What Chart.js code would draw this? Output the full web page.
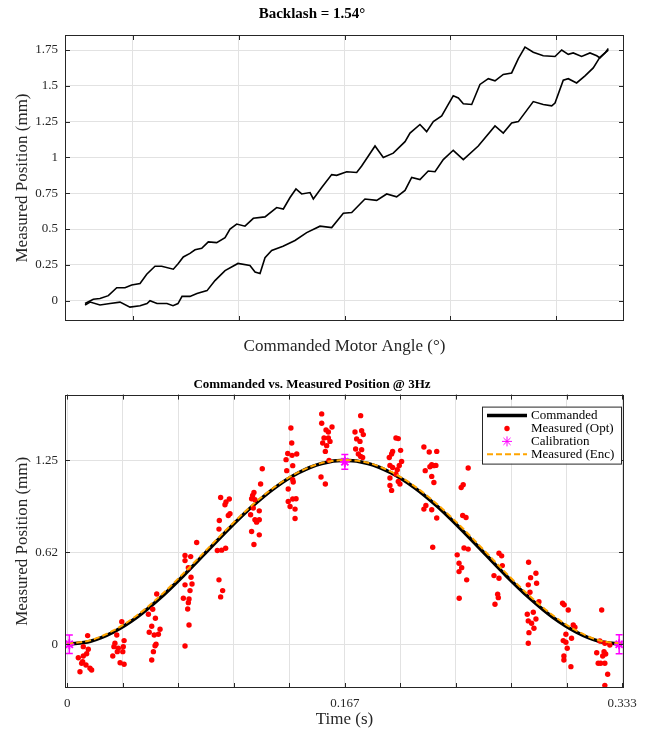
<!DOCTYPE html>
<html>
<head>
<meta charset="utf-8">
<script src="https://cdn.jsdelivr.net/npm/chart.js@4.4.0/dist/chart.umd.min.js"></script>
<style>
  html, body { margin: 0; padding: 0; background: #fff; }
  .wrap { position: absolute; left: 0; width: 652px; height: 365px; }
</style>
</head>
<body>
<div class="wrap" style="top:0"><canvas id="backlash"></canvas></div>
<div class="wrap" style="top:365px"><canvas id="tracking"></canvas></div>
<script>
// top plot - backlash loop (two passes)
const upperAngle = [0.552, 0.63, 0.693, 0.772, 0.851, 0.929, 0.992, 1.071, 1.134, 1.212, 1.275, 1.385, 1.432, 1.479, 1.542, 1.59, 1.653, 1.715, 1.794, 1.873, 1.92, 1.983, 2.061, 2.14, 2.25, 2.36, 2.423, 2.486, 2.542, 2.596, 2.675, 2.706, 2.785, 2.879, 2.926, 3.021, 3.115, 3.162, 3.225, 3.288, 3.366, 3.46, 3.571, 3.618, 3.712, 3.775, 3.838, 3.917, 3.979, 4.026, 4.074, 4.121, 4.2, 4.278, 4.357, 4.42, 4.498, 4.577, 4.64, 4.703, 4.781, 4.875, 4.986, 5.049, 5.111, 5.158, 5.237, 5.316, 5.38, 5.41, 5.458, 5.489];
const upperPos = [-0.02, 0.01, 0.015, 0.035, 0.09, 0.09, 0.11, 0.12, 0.185, 0.24, 0.24, 0.22, 0.26, 0.305, 0.33, 0.355, 0.365, 0.41, 0.405, 0.44, 0.5, 0.535, 0.52, 0.575, 0.585, 0.65, 0.64, 0.72, 0.78, 0.745, 0.755, 0.71, 0.79, 0.88, 0.875, 0.9, 0.895, 0.94, 1.01, 1.08, 1.0, 1.03, 1.11, 1.17, 1.23, 1.18, 1.25, 1.29, 1.37, 1.43, 1.415, 1.375, 1.37, 1.51, 1.55, 1.535, 1.58, 1.59, 1.69, 1.77, 1.735, 1.71, 1.705, 1.75, 1.72, 1.73, 1.705, 1.73, 1.71, 1.695, 1.73, 1.76];
const lowerAngle = [0.552, 0.6, 0.693, 0.788, 0.882, 0.976, 1.071, 1.137, 1.165, 1.231, 1.325, 1.382, 1.429, 1.467, 1.542, 1.608, 1.703, 1.778, 1.873, 1.995, 2.108, 2.156, 2.203, 2.25, 2.313, 2.42, 2.533, 2.643, 2.769, 2.879, 2.989, 3.068, 3.193, 3.304, 3.398, 3.492, 3.571, 3.634, 3.712, 3.79, 3.854, 3.932, 4.026, 4.121, 4.262, 4.42, 4.498, 4.577, 4.64, 4.781, 4.875, 4.955, 4.986, 5.064, 5.111, 5.19, 5.269, 5.347, 5.41, 5.458, 5.489];
const lowerPos = [-0.03, -0.01, -0.03, -0.02, -0.01, -0.045, -0.035, -0.02, 0.0, -0.02, -0.02, -0.035, -0.02, 0.03, 0.03, 0.05, 0.07, 0.14, 0.21, 0.26, 0.245, 0.2, 0.19, 0.3, 0.35, 0.38, 0.42, 0.475, 0.52, 0.51, 0.61, 0.615, 0.71, 0.7, 0.745, 0.725, 0.77, 0.86, 0.845, 0.905, 0.9, 0.985, 1.05, 0.985, 1.08, 1.22, 1.17, 1.24, 1.25, 1.39, 1.37, 1.36, 1.38, 1.54, 1.55, 1.52, 1.57, 1.625, 1.7, 1.73, 1.75];
const angleTicks = [1, 2, 3, 4, 5];
const backlashTicks = [0, 0.25, 0.5, 0.75, 1, 1.25, 1.5, 1.75];

// bottom plot - 3 Hz tracking
const cmdTime = [0, 0.0139, 0.0278, 0.0417, 0.0556, 0.0694, 0.0833, 0.0972, 0.1111, 0.125, 0.1389, 0.1528, 0.1667, 0.1806, 0.1944, 0.2083, 0.2222, 0.2361, 0.25, 0.2639, 0.2778, 0.2917, 0.3056, 0.3194, 0.3333];
const cmdPos = [0, 0.021, 0.084, 0.183, 0.313, 0.463, 0.625, 0.787, 0.938, 1.067, 1.166, 1.229, 1.25, 1.229, 1.166, 1.067, 0.938, 0.787, 0.625, 0.463, 0.313, 0.183, 0.084, 0.021, 0];
const encPos = [0.003, 0.027, 0.094, 0.196, 0.327, 0.478, 0.638, 0.798, 0.946, 1.073, 1.17, 1.232, 1.252, 1.234, 1.173, 1.077, 0.952, 0.804, 0.643, 0.48, 0.328, 0.197, 0.094, 0.027, 0.004];
const optTime = [
  0.0122, 0.0096, 0.0126, 0.0066, 0.0096, 0.0116, 0.0086, 0.0112, 0.0076, 0.0146, 0.0092, 0.0136,
  0.0327, 0.0297, 0.0341, 0.0286, 0.028, 0.0306, 0.0336, 0.03, 0.0333, 0.0273, 0.0317, 0.0341,
  0.0537, 0.0513, 0.0487, 0.0529, 0.0507, 0.0557, 0.0492, 0.0522, 0.0547, 0.0533, 0.0527, 0.0517, 0.0507,
  0.0777, 0.0707, 0.0741, 0.0707, 0.0727, 0.0743, 0.0707, 0.0749, 0.0737, 0.0697, 0.0731, 0.0727, 0.0723, 0.0731, 0.0707,
  0.0921, 0.0973, 0.0953, 0.0947, 0.0977, 0.0967, 0.0913, 0.0911, 0.0951, 0.0927, 0.0901, 0.0911, 0.0933, 0.0921,
  0.1171, 0.1161, 0.1121, 0.1113, 0.1107, 0.1127, 0.1117, 0.1153, 0.1101, 0.1127, 0.1153, 0.1137, 0.1107, 0.1153, 0.1121,
  0.1343, 0.1348, 0.1324, 0.1378, 0.135, 0.1314, 0.1354, 0.1318, 0.1354, 0.1357, 0.1327, 0.1374, 0.1354, 0.1327, 0.1338, 0.1368, 0.1368,
  0.1528, 0.1528, 0.159, 0.1554, 0.1568, 0.1542, 0.1568, 0.1578, 0.1534, 0.1558, 0.155, 0.1572, 0.1524, 0.155,
  0.1762, 0.1728, 0.1768, 0.1778, 0.1738, 0.1758, 0.1732, 0.1768, 0.1748, 0.1762, 0.1774,
  0.1974, 0.1988, 0.2002, 0.1954, 0.1948, 0.1934, 0.2008, 0.1938, 0.1954, 0.1994, 0.1982, 0.1974, 0.1938, 0.1988, 0.1998, 0.1938, 0.1948,
  0.2142, 0.2174, 0.2219, 0.2189, 0.2202, 0.2214, 0.2178, 0.215, 0.2189, 0.2202, 0.2154, 0.2142, 0.2189, 0.2219, 0.2195,
  0.2408, 0.2378, 0.2366, 0.2375, 0.2395, 0.2383, 0.2408, 0.2342, 0.2353, 0.2369, 0.2353, 0.2399, 0.2354,
  0.2593, 0.2609, 0.2613, 0.2563, 0.2593, 0.2585, 0.2589, 0.2569,
  0.2771, 0.2783, 0.2815, 0.2819, 0.2769, 0.2779, 0.2833, 0.2799, 0.2763, 0.2815, 0.2769, 0.2789, 0.2803, 0.2773, 0.2769,
  0.2975, 0.2985, 0.3009, 0.3039, 0.3049, 0.2995, 0.3029, 0.2979, 0.2995, 0.3003, 0.2983, 0.2983, 0.3025,
  0.321, 0.3199, 0.3229, 0.3259, 0.318, 0.3224, 0.3234, 0.3216, 0.3189, 0.3204, 0.3229, 0.3246, 0.3229
];
const optPos = [
  0.059, -0.016, -0.034, -0.091, -0.08, -0.064, -0.129, -0.141, -0.187, -0.175, -0.118, -0.163,
  0.154, 0.063, 0.025, 0.007, -0.016, -0.027, -0.016, -0.05, -0.05, -0.08, -0.125, -0.136,
  0.342, 0.238, 0.204, 0.177, 0.123, 0.102, 0.082, 0.063, 0.068, 0.0, -0.01, -0.05, -0.107,
  0.692, 0.603, 0.596, 0.569, 0.521, 0.456, 0.404, 0.41, 0.365, 0.313, 0.308, 0.283, 0.24, 0.131, -0.012,
  0.998, 0.987, 0.967, 0.948, 0.887, 0.875, 0.841, 0.783, 0.653, 0.64, 0.637, 0.438, 0.365, 0.322,
  1.193, 1.089, 1.032, 1.012, 0.989, 0.982, 0.926, 0.907, 0.88, 0.846, 0.846, 0.83, 0.767, 0.744, 0.678,
  1.47, 1.368, 1.297, 1.293, 1.284, 1.255, 1.214, 1.18, 1.118, 1.103, 1.055, 0.989, 0.987, 0.971, 0.937, 0.919, 0.855,
  1.566, 1.502, 1.477, 1.457, 1.443, 1.402, 1.402, 1.379, 1.368, 1.35, 1.311, 1.25, 1.137, 1.089,
  1.554, 1.443, 1.452, 1.425, 1.396, 1.379, 1.327, 1.323, 1.293, 1.277, 1.27,
  1.402, 1.398, 1.318, 1.311, 1.293, 1.27, 1.243, 1.216, 1.202, 1.216, 1.187, 1.157, 1.13, 1.107, 1.089, 1.08, 1.046,
  1.341, 1.307, 1.311, 1.221, 1.214, 1.216, 1.207, 1.18, 1.141, 1.1, 0.944, 0.919, 0.914, 0.858, 0.66,
  1.198, 1.084, 1.066, 0.875, 0.862, 0.654, 0.647, 0.608, 0.551, 0.521, 0.494, 0.438, 0.313,
  0.619, 0.601, 0.535, 0.467, 0.449, 0.34, 0.317, 0.272,
  0.558, 0.453, 0.483, 0.415, 0.404, 0.354, 0.29, 0.218, 0.204, 0.172, 0.159, 0.143, 0.109, 0.079, 0.007,
  0.279, 0.268, 0.233, 0.131, 0.116, 0.068, 0.041, 0.025, 0.014, -0.027, -0.08, -0.107, -0.152,
  0.233, 0.022, 0.007, -0.005, -0.057, -0.05, -0.066, -0.08, -0.129, -0.129, -0.129, -0.204, -0.28
];
const calTime = [0.0012, 0.1667, 0.3315];
const calPos = [0, 1.24, 0];
const calErr = [0.063, 0.05, 0.065];
const timeTicks = [0, 0.0333, 0.0667, 0.1, 0.1333, 0.1667, 0.2, 0.2333, 0.2667, 0.3, 0.3333];
const timeTickLabels = ['0', '', '', '', '', '0.167', '', '', '', '', '0.333'];
const trackTicks = [0, 0.625, 1.25];
const trackTickLabels = ['0', '0.62', '1.25'];

Chart.defaults.font.family = "'Liberation Serif', 'Times New Roman', serif";
Chart.defaults.color = '#262626';

const gridColor = '#e2e2e2';
const pts = (xs, ys) => xs.map((x, i) => ({ x: x, y: ys[i] }));

// matlab style box with inward tick marks
const boxTicks = {
    id: 'boxTicks',
    afterDraw(chart) {
        const { ctx, chartArea: a, scales } = chart;
        ctx.save();
        ctx.strokeStyle = '#262626';
        ctx.lineWidth = 1;
        ctx.beginPath();
        scales.x.ticks.forEach((t) => {
            const px = Math.round(scales.x.getPixelForValue(t.value)) + 0.5;
            ctx.moveTo(px, a.top); ctx.lineTo(px, a.top + 5);
            ctx.moveTo(px, a.bottom); ctx.lineTo(px, a.bottom - 5);
        });
        scales.y.ticks.forEach((t) => {
            const py = Math.round(scales.y.getPixelForValue(t.value)) + 0.5;
            ctx.moveTo(a.left, py); ctx.lineTo(a.left + 5, py);
            ctx.moveTo(a.right, py); ctx.lineTo(a.right - 5, py);
        });
        ctx.stroke();
        ctx.strokeRect(Math.round(a.left) + 0.5, Math.round(a.top) + 0.5, Math.round(a.right - a.left) - 1, Math.round(a.bottom - a.top) - 1);
        ctx.restore();
    }
};

const calErrorBars = {
    id: 'calErrorBars',
    afterDatasetsDraw(chart) {
        const { ctx, scales: { x, y } } = chart;
        ctx.save();
        ctx.strokeStyle = '#ff00ff';
        ctx.lineWidth = 1.5;
        calTime.forEach((t, i) => {
            const px = x.getPixelForValue(t);
            const top = y.getPixelForValue(calPos[i] + calErr[i]);
            const bot = y.getPixelForValue(calPos[i] - calErr[i]);
            ctx.beginPath();
            ctx.moveTo(px, top); ctx.lineTo(px, bot);
            ctx.moveTo(px - 3.5, top); ctx.lineTo(px + 3.5, top);
            ctx.moveTo(px - 3.5, bot); ctx.lineTo(px + 3.5, bot);
            ctx.stroke();
        });
        ctx.restore();
    }
};

const insideLegend = {
    id: 'insideLegend',
    afterDraw(chart) {
        const { ctx, chartArea: a } = chart;
        const x0 = a.right - 142, y0 = a.top + 12, w = 139, h = 57;
        ctx.save();
        ctx.fillStyle = '#fff';
        ctx.fillRect(x0, y0, w, h);
        ctx.strokeStyle = '#262626';
        ctx.lineWidth = 1;
        ctx.strokeRect(x0 + 0.5, y0 + 0.5, w, h);
        ctx.font = "13px 'Liberation Serif', serif";
        ctx.textBaseline = 'middle';
        chart.data.datasets.forEach((ds, i) => {
            const cy = y0 + 9 + i * 12.9;
            const sx = x0 + 5, ex = x0 + 45, mx = (sx + ex) / 2;
            if (ds.showLine) {
                ctx.save();
                ctx.strokeStyle = ds.borderColor;
                ctx.lineWidth = ds.borderWidth;
                ctx.setLineDash(ds.borderDash || []);
                ctx.beginPath(); ctx.moveTo(sx, cy); ctx.lineTo(ex, cy); ctx.stroke();
                ctx.restore();
            } else {
                ctx.save();
                ctx.fillStyle = ds.pointBackgroundColor;
                ctx.strokeStyle = ds.pointBorderColor;
                Chart.helpers.drawPoint(ctx, { pointStyle: ds.pointStyle, radius: ds.pointRadius, borderWidth: ds.pointBorderWidth, rotation: 0 }, mx, cy);
                ctx.restore();
            }
            ctx.fillStyle = '#000';
            ctx.fillText(ds.label, x0 + 49, cy);
        });
        ctx.restore();
    }
};

new Chart(document.getElementById('backlash'), {
    type: 'scatter',
    data: {
        datasets: [
            { label: 'Pass 1', data: pts(upperAngle, upperPos), showLine: true, borderColor: '#000', borderWidth: 1.6, pointRadius: 0 },
            { label: 'Pass 2', data: pts(lowerAngle, lowerPos), showLine: true, borderColor: '#000', borderWidth: 1.6, pointRadius: 0 },
        ],
    },
    options: {
        responsive: true,
        maintainAspectRatio: false,
        animation: false,
        devicePixelRatio: 1,
        layout: { padding: { left: 0, right: 28, top: 0, bottom: 0 } },
        plugins: {
            legend: { display: false },
            tooltip: { enabled: false },
            title: {
                display: true,
                text: 'Backlash = 1.54°',
                color: '#000',
                font: { size: 15, weight: 'bold' },
                padding: { top: 5, bottom: 12 },
            },
        },
        scales: {
            x: {
                type: 'linear',
                min: 0.363,
                max: 5.637,
                afterBuildTicks: (s) => { s.ticks = angleTicks.map((v) => ({ value: v })); },
                afterFit: (s) => { s.height = 44; },
                ticks: { display: false },
                grid: { color: gridColor, drawTicks: false },
                border: { display: false },
                title: { display: true, text: 'Commanded Motor Angle (°)', color: '#262626', font: { size: 17 }, padding: { top: 0, bottom: 8 } },
            },
            y: {
                min: -0.142,
                max: 1.855,
                afterBuildTicks: (s) => { s.ticks = backlashTicks.map((v) => ({ value: v })); },
                afterFit: (s) => { s.width = 65; },
                ticks: { padding: 7, font: { size: 13 }, color: '#262626', callback: (v) => String(v) },
                grid: { color: gridColor, drawTicks: false },
                border: { display: false },
                title: { display: true, text: 'Measured Position (mm)', color: '#262626', font: { size: 17 }, padding: { top: 12, bottom: 0 } },
            },
        },
    },
    plugins: [boxTicks],
});

new Chart(document.getElementById('tracking'), {
    type: 'scatter',
    data: {
        datasets: [
            {
                label: 'Commanded',
                data: pts(cmdTime, cmdPos),
                showLine: true,
                borderColor: '#000',
                borderWidth: 3.5,
                pointRadius: 0,
                cubicInterpolationMode: 'monotone',
                order: 4,
            },
            {
                label: 'Measured (Opt)',
                data: pts(optTime, optPos),
                pointStyle: 'circle',
                pointRadius: 2.7,
                pointBorderWidth: 0,
                pointBackgroundColor: '#ff0000',
                pointBorderColor: '#ff0000',
                order: 3,
            },
            {
                label: 'Calibration',
                data: pts(calTime, calPos),
                pointStyle: 'star',
                pointRadius: 5,
                pointBorderWidth: 2,
                pointBackgroundColor: '#ff00ff',
                pointBorderColor: '#ff00ff',
                order: 2,
            },
            {
                label: 'Measured (Enc)',
                data: pts(cmdTime, encPos),
                showLine: true,
                borderColor: '#ffa500',
                borderWidth: 2,
                borderDash: [6, 3],
                pointRadius: 0,
                cubicInterpolationMode: 'monotone',
                order: 1,
            },
        ],
    },
    options: {
        responsive: true,
        maintainAspectRatio: false,
        animation: false,
        devicePixelRatio: 1,
        layout: { padding: { left: 0, right: 28, top: 0, bottom: 0 } },
        plugins: {
            legend: { display: false },
            tooltip: { enabled: false },
            title: {
                display: true,
                text: 'Commanded vs. Measured Position @ 3Hz',
                color: '#000',
                font: { size: 13, weight: 'bold' },
                padding: { top: 12, bottom: 2 },
            },
        },
        scales: {
            x: {
                type: 'linear',
                min: -0.0014,
                max: 0.3344,
                afterBuildTicks: (s) => { s.ticks = timeTicks.map((v) => ({ value: v })); },
                afterFit: (s) => { s.height = 42; },
                ticks: { padding: 8, font: { size: 13 }, color: '#262626', maxRotation: 0, autoSkip: false, callback: (v, i) => timeTickLabels[i] },
                grid: { color: gridColor, drawTicks: false },
                border: { display: false },
                title: { display: true, text: 'Time (s)', color: '#262626', font: { size: 17 }, padding: { top: 0, bottom: 0 } },
            },
            y: {
                min: -0.297,
                max: 1.697,
                afterBuildTicks: (s) => { s.ticks = trackTicks.map((v) => ({ value: v })); },
                afterFit: (s) => { s.width = 65; },
                ticks: { padding: 7, font: { size: 13 }, color: '#262626', callback: (v, i) => trackTickLabels[i] },
                grid: { color: gridColor, drawTicks: false },
                border: { display: false },
                title: { display: true, text: 'Measured Position (mm)', color: '#262626', font: { size: 17 }, padding: { top: 12, bottom: 0 } },
            },
        },
    },
    plugins: [boxTicks, calErrorBars, insideLegend],
});
</script>
</body>
</html>
